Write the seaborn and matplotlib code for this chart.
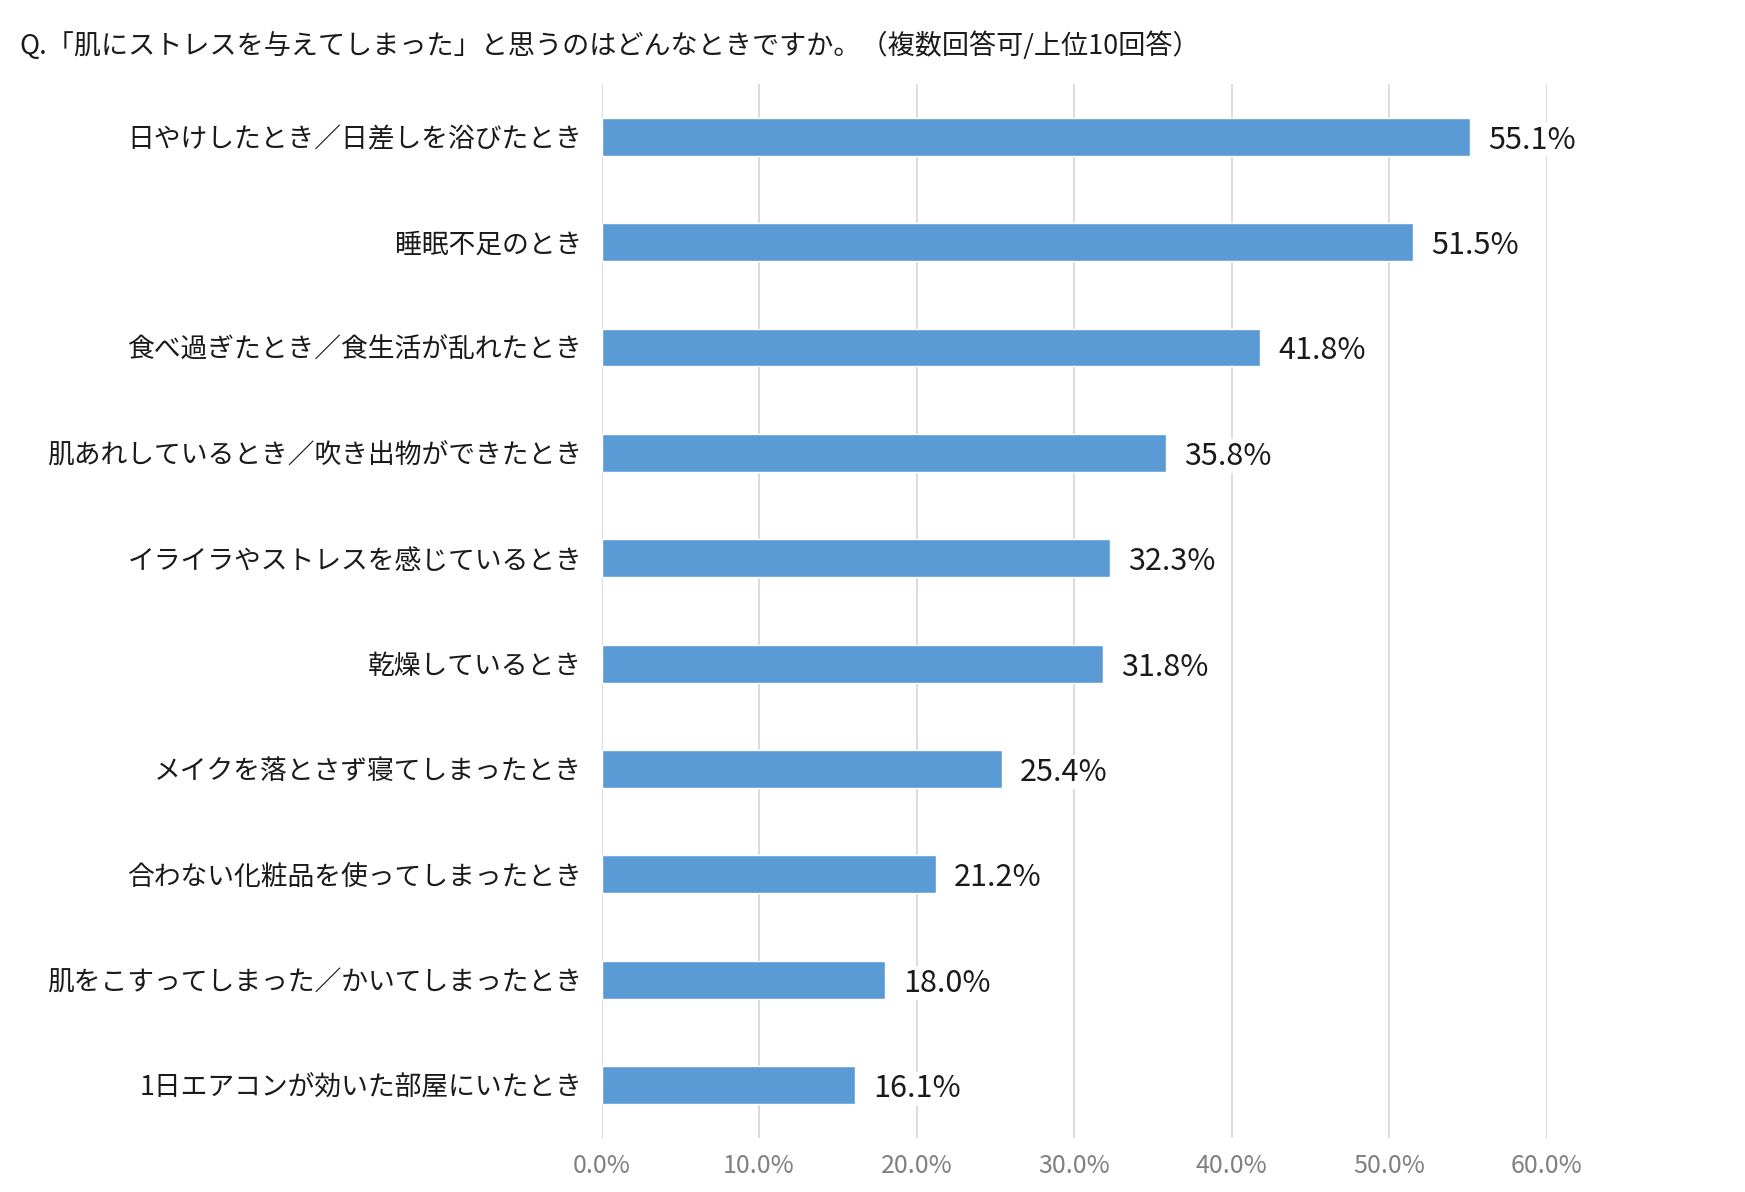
import matplotlib
matplotlib.use("Agg")
import matplotlib.pyplot as plt
import seaborn as sns
import pandas as pd

title = "Q.「肌にストレスを与えてしまった」と思うのはどんなときですか。（複数回答可/上位10回答）"

categories = [
    "日やけしたとき／日差しを浴びたとき",
    "睡眠不足のとき",
    "食べ過ぎたとき／食生活が乱れたとき",
    "肌あれしているとき／吹き出物ができたとき",
    "イライラやストレスを感じているとき",
    "乾燥しているとき",
    "メイクを落とさず寝てしまったとき",
    "合わない化粧品を使ってしまったとき",
    "肌をこすってしまった／かいてしまったとき",
    "1日エアコンが効いた部屋にいたとき",
]
values = [55.1, 51.5, 41.8, 35.8, 32.3, 31.8, 25.4, 21.2, 18.0, 16.1]
xticks = [0, 10, 20, 30, 40, 50, 60]

df = pd.DataFrame({"item": categories, "pct": values})

sns.set_theme(style="white")
plt.rcParams["font.family"] = ["Noto Sans CJK JP", "DejaVu Sans"]

fig = plt.figure(figsize=(17.45, 11.92), dpi=100)
ax = fig.add_axes([0.3447, 0.0455, 0.5418, 0.884])

sns.barplot(data=df, x="pct", y="item", color="#5B9BD5", saturation=1,
            width=0.36, ax=ax, zorder=3)

ax.set_xlim(0, 60)
ax.set_ylim(9.5, -0.5)
ax.set_xticks(xticks)
ax.set_xticklabels([f"{t:.1f}%" for t in xticks], color="#808080", fontsize=18)
ax.tick_params(axis="x", length=0, pad=11)
ax.tick_params(axis="y", length=0, pad=14, labelsize=19.3, labelcolor="#1a1a1a")
ax.set_xlabel("")
ax.set_ylabel("")
ax.grid(axis="x", color="#D9D9D9", linewidth=1.3, zorder=0)
ax.grid(axis="y", visible=False)
for s in ax.spines.values():
    s.set_visible(False)

# value labels with a white box so the gridlines break behind them
for c in ax.containers:
    labels = ax.bar_label(c, labels=[f"{v:.1f}%" for v in values], padding=13,
                          fontsize=22, color="#1a1a1a")
    for t in labels:
        t.set_bbox(dict(facecolor="white", edgecolor="none", pad=1))
        t.set_zorder(4)
        t.xyann = (t.xyann[0], -2.5)  # nudge down a little to sit on bar centre

fig.text(0.011, 0.962, title, fontsize=19.5, color="#1a1a1a", va="center", ha="left")

fig.savefig("out.png", dpi=100)
